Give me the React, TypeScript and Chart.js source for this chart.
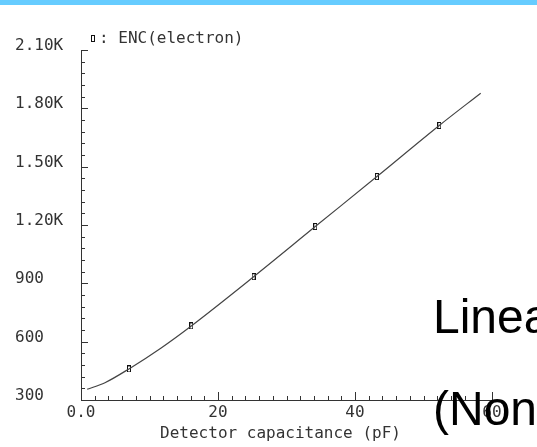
import React, { useEffect, useRef } from "react";
import { Chart, registerables } from "chart.js";

Chart.register(...registerables);

// Simulated curve
const curveX = [0.9, 3.5, 7.0, 11.7, 16.1, 25.2, 34.2, 43.2, 52.3, 58.35];
const curveY = [355, 389, 460, 568, 681, 934, 1192, 1449, 1712, 1878];
// Marker points
const markerX = [7.0, 16.1, 25.2, 34.2, 43.2, 52.3];
const markerY = [460, 681, 934, 1192, 1449, 1712];

const xMajorTicks = [0, 20, 40, 60];
const yMajorLabels: Record<number, string> = {
  300: "300",
  600: "600",
  900: "900",
  1200: "1.20K",
  1500: "1.50K",
  1800: "1.80K",
  2100: "2.10K",
};
const seriesName = "ENC(electron)";
const xTitle = "Detector capacitance (pF)";

const MONO = "'DejaVu Sans Mono', monospace";
const INK = "#333";

function makeMarker(): HTMLCanvasElement {
  const c = document.createElement("canvas");
  c.width = 4;
  c.height = 7;
  const g = c.getContext("2d")!;
  g.strokeStyle = "#111";
  g.lineWidth = 1;
  g.strokeRect(0.5, 0.5, 3, 6);
  return c;
}

export default function App() {
  const ref = useRef<HTMLCanvasElement | null>(null);

  useEffect(() => {
    document.body.style.margin = "0";
    const marker = makeMarker();

    const decor = {
      id: "decor",
      afterDraw(chart: any) {
        const { ctx, chartArea, scales } = chart;
        const x = scales.x;
        const y = scales.y;
        ctx.save();
        ctx.strokeStyle = INK;
        ctx.lineWidth = 1;
        ctx.beginPath();
        x.ticks.forEach((t: any) => {
          const px = Math.round(x.getPixelForValue(t.value)) + 0.5;
          const len = t.value % 20 === 0 ? 8 : 4;
          ctx.moveTo(px, chartArea.bottom);
          ctx.lineTo(px, chartArea.bottom - len);
        });
        y.ticks.forEach((t: any) => {
          const py = Math.round(y.getPixelForValue(t.value)) + 0.5;
          const len = t.value % 300 === 0 ? 7 : 4;
          ctx.moveTo(chartArea.left, py);
          ctx.lineTo(chartArea.left + len, py);
        });
        ctx.stroke();

        // legend
        ctx.drawImage(marker, chartArea.left + 10, chartArea.top - 15);
        ctx.fillStyle = INK;
        ctx.font = `16px ${MONO}`;
        ctx.textAlign = "left";
        ctx.textBaseline = "alphabetic";
        ctx.fillText(": " + seriesName, chartArea.left + 18, chartArea.top - 7);

        // x title
        ctx.textAlign = "center";
        ctx.fillText(xTitle, (chartArea.left + chartArea.right) / 2 - 6, chartArea.bottom + 38);
        ctx.restore();
      },
    };

    const chart = new Chart(ref.current!, {
      type: "scatter",
      data: {
        datasets: [
          {
            label: "curve",
            data: curveX.map((v, i) => ({ x: v, y: curveY[i] })),
            showLine: true,
            borderColor: "#444",
            borderWidth: 1.2,
            pointRadius: 0,
            cubicInterpolationMode: "monotone",
            fill: false,
          } as any,
          {
            label: seriesName,
            data: markerX.map((v, i) => ({ x: v, y: markerY[i] })),
            showLine: false,
            pointStyle: marker as any,
            pointRadius: 3,
          } as any,
        ],
      },
      options: {
        responsive: false,
        animation: false,
        devicePixelRatio: 1,
        layout: { padding: { left: 15, top: 50, right: 45, bottom: 0 } },
        plugins: {
          legend: { display: false },
          tooltip: { enabled: false },
        },
        scales: {
          x: {
            type: "linear",
            min: 0,
            max: 60,
            afterFit: (s: any) => {
              s.height = 47;
            },
            grid: { display: false, drawTicks: false },
            border: { display: true, color: INK, width: 1 },
            ticks: {
              stepSize: 2,
              autoSkip: false,
              maxRotation: 0,
              padding: 3,
              color: INK,
              font: { family: MONO, size: 16 },
              callback: (v: any) =>
                xMajorTicks.includes(Number(v)) ? (Number(v) === 0 ? "0.0" : String(v)) : "",
            },
          },
          y: {
            type: "linear",
            min: 300,
            max: 2100,
            afterFit: (s: any) => {
              s.width = 66;
            },
            grid: { display: false, drawTicks: false },
            border: { display: true, color: INK, width: 1 },
            ticks: {
              stepSize: 60,
              autoSkip: false,
              crossAlign: "far",
              labelOffset: -4,
              padding: 0,
              color: INK,
              font: { family: MONO, size: 16 },
              callback: (v: any) => yMajorLabels[Number(v)] ?? "",
            },
          },
        },
      },
      plugins: [decor],
    });
    return () => chart.destroy();
  }, []);

  const bigText: React.CSSProperties = {
    position: "absolute",
    left: 433,
    fontFamily: "'Liberation Sans', Arial, sans-serif",
    fontSize: 48,
    lineHeight: "48px",
    color: "#000",
    whiteSpace: "nowrap",
  };

  return (
    <div
      style={{
        position: "fixed",
        left: 0,
        top: 0,
        width: 537,
        height: 447,
        overflow: "hidden",
        background: "#fff",
      }}
    >
      <div style={{ position: "absolute", left: 0, top: 0, width: 537, height: 5, background: "#66ccff" }} />
      <canvas ref={ref} width={537} height={447} style={{ position: "absolute", left: 0, top: 0 }} />
      <div style={{ ...bigText, top: 293 }}>Linear</div>
      <div style={{ ...bigText, top: 385 }}>(Nonlinear)</div>
    </div>
  );
}
